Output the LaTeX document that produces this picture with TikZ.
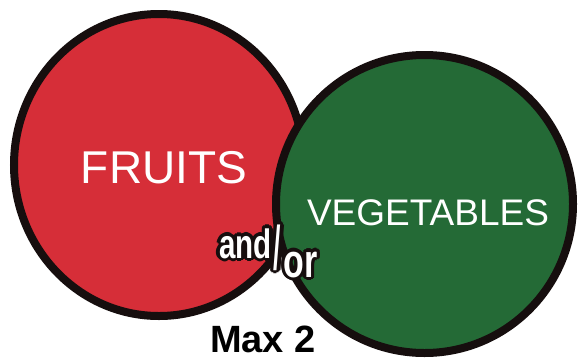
\documentclass[tikz,border=0pt]{standalone}
\usepackage{fontspec}
\setmainfont{Liberation Sans}
\newfontfamily\condfont[FakeStretch=0.72]{Liberation Sans}
\usetikzlibrary{shapes.geometric,calc}
\definecolor{fruitred}{RGB}{214,46,56}
\definecolor{veggreen}{RGB}{36,106,54}
\definecolor{rim}{RGB}{22,14,14}
\tikzset{
  disc/.style={ellipse, draw=rim, line width=8pt, inner sep=0pt},
  label/.style={text=white, inner sep=0pt, anchor=base},
  haloblack/.style={text=rim, inner sep=0pt, anchor=base west},
  andorfont/.style={font=\fontsize{41}{41}\selectfont},
}
\newcommand\andortext{\condfont\bfseries and\kern2pt\raisebox{-11pt}{\scalebox{0.9}[1.5]{/}}\kern2.5pt\raisebox{-19pt}{\scalebox{1.15}{or}}}
\begin{document}
\begin{tikzpicture}[x=1pt,y=-1pt]
\useasboundingbox (0,0) rectangle (580,362);
\node[disc, fill=fruitred, minimum width=290pt, minimum height=302pt] (red) at (159,165) {};
\node[disc, fill=veggreen, minimum width=297pt, minimum height=298pt] (green) at (424.5,204) {};
\node[label, font=\fontsize{46}{46}\selectfont] (fruits) at (164,183) {FRUITS};
\node[label, font=\fontsize{37}{37}\selectfont] (veg) at (428,225) {VEGETABLES};
\coordinate (andor) at (219,258);
\foreach \a in {0,30,...,330}
  \node[haloblack, andorfont] (halo\a) at ($(andor)+(\a:3.4)$) {\andortext};
\node[label, anchor=base west, andorfont] (andortxt) at (andor) {\andortext};
\node[text=black, inner sep=0pt, anchor=base, font=\fontsize{38}{38}\selectfont\bfseries] (max) at (263,352) {Max 2};
\end{tikzpicture}
\end{document}
